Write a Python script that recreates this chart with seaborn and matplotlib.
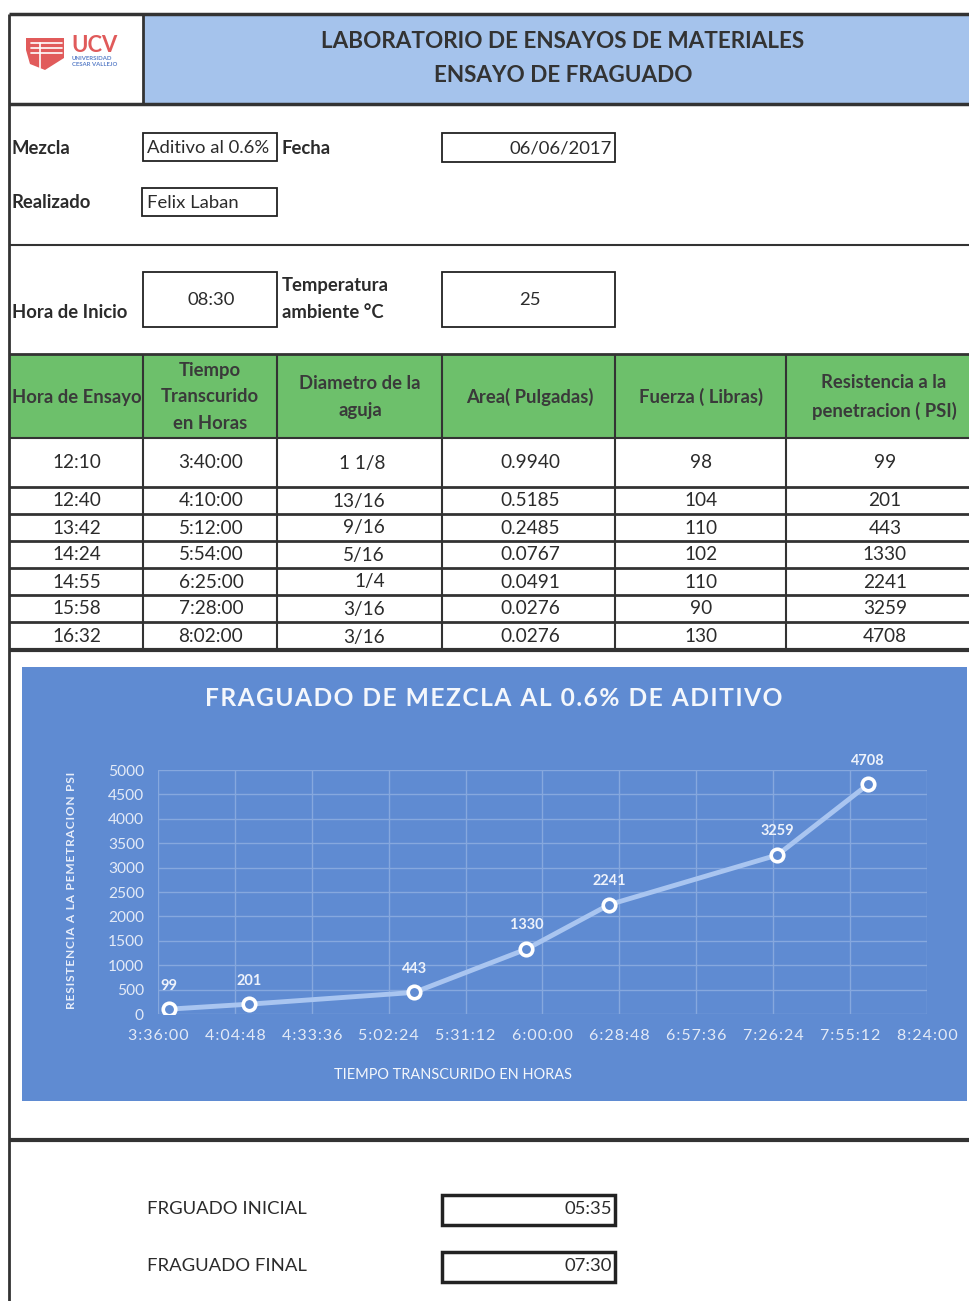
import numpy as np
import pandas as pd
import matplotlib
matplotlib.use("Agg")
import matplotlib.pyplot as plt
from matplotlib.patches import Rectangle, Polygon
import seaborn as sns

# ---- report data ----
mezcla = "Aditivo al 0.6%"
fecha = "06/06/2017"
realizado = "Felix Laban"
hora_inicio = "08:30"
temperatura = "25"

hora_ensayo = ["12:10", "12:40", "13:42", "14:24", "14:55", "15:58", "16:32"]
tiempo = ["3:40:00", "4:10:00", "5:12:00", "5:54:00", "6:25:00", "7:28:00", "8:02:00"]
diametro = ["1 1/8", "13/16", "9/16", "5/16", "1/4", "3/16", "3/16"]
area = ["0.9940", "0.5185", "0.2485", "0.0767", "0.0491", "0.0276", "0.0276"]
fuerza = [98, 104, 110, 102, 110, 90, 130]
resistencia = [99, 201, 443, 1330, 2241, 3259, 4708]

fraguado_inicial = "05:35"
fraguado_final = "07:30"

x_ticks_hours = [3.6 + 0.48 * i for i in range(11)]
y_ticks = list(range(0, 5001, 500))

sns.set_style("white")
plt.rcParams["font.family"] = ["Lato", "DejaVu Sans"]

W, H = 970, 1301
fig = plt.figure(figsize=(W / 100, H / 100), dpi=100)
doc = fig.add_axes([0, 0, 1, 1])
doc.set_xlim(0, W)
doc.set_ylim(H, 0)
doc.axis("off")

INK = "#2b2b2b"
HEAD_BLUE = "#a5c3ec"
GREEN = "#6dc06b"
CHART_BG = "#5f8bd2"
HAIR = "\u200a"


def pt(px):
    return px * 0.72


def spaced(s):
    return HAIR.join(s)


def hline(y, x0, x1, lw=2.0, c="#333333"):
    doc.plot([x0, x1], [y, y], color=c, lw=lw, solid_capstyle="butt")


def vline(x, y0, y1, lw=1.5, c="#333333"):
    doc.plot([x, x], [y0, y1], color=c, lw=lw, solid_capstyle="butt")


def box(x0, y0, x1, y1, lw=1.3):
    doc.add_patch(Rectangle((x0, y0), x1 - x0, y1 - y0, fill=False,
                            ec="#222222", lw=lw))


def txt(x, y, s, size=18.5, ha="left", weight="normal", color=INK, **kw):
    doc.text(x, y, s, fontsize=pt(size), ha=ha, va="center",
             fontweight=weight, color=color, **kw)


# ---- header ----
doc.add_patch(Rectangle((143, 14), W - 143, 90, color=HEAD_BLUE, lw=0))
hline(14, 9, W, lw=2.5)
hline(104, 9, W, lw=2.5)
vline(9, 14, H, lw=2.0)
vline(143, 14, 104, lw=2.0)
txt(563, 42, "LABORATORIO DE ENSAYOS DE MATERIALES", size=22.5, ha="center",
    weight="bold", color="#333333")
txt(563, 75, "ENSAYO DE FRAGUADO", size=22.5, ha="center",
    weight="bold", color="#333333")

# logo
doc.add_patch(Polygon([[26, 38], [64, 38], [64, 58], [45, 70], [30, 64], [26, 50]],
                      closed=True, color="#e15b5b", lw=0))
for yy in (43, 48, 53):
    doc.plot([31, 62], [yy, yy], color="white", lw=1.2)
doc.plot([40, 40], [43, 68], color="white", lw=1.2)
txt(71, 46, "UCV", size=22, weight="bold", color="#e05a5a")
txt(72, 58, "UNIVERSIDAD", size=6, weight="bold", color="#5a7fc8")
txt(72, 64, "CESAR VALLEJO", size=6, weight="bold", color="#5a7fc8")

# ---- general info ----
txt(12, 148, "Mezcla", weight="bold")
box(143, 133, 277, 161)
txt(147, 148, mezcla)
txt(282, 148, "Fecha", weight="bold")
box(442, 133, 615, 162)
txt(612, 148, fecha, ha="right")

txt(12, 203, "Realizado", weight="bold")
box(142, 188, 277, 216)
txt(147, 203, realizado)

hline(245, 9, W, lw=1.5)

txt(12, 313, "Hora de Inicio", weight="bold")
box(143, 272, 277, 327)
txt(211, 300, hora_inicio, ha="center")
txt(282, 286, "Temperatura", weight="bold")
txt(282, 313, "ambiente \u00b0C", weight="bold")
box(442, 272, 615, 327)
txt(530, 300, temperatura, ha="center")

# ---- table ----
col_edges = [9, 143, 277, 442, 615, 786, W]
doc.add_patch(Rectangle((9, 354), W - 9, 84, color=GREEN, lw=0))
hline(354, 9, W, lw=2.0)
hline(438, 9, W, lw=1.5)
headers = ["Hora de Ensayo", "Tiempo\nTranscurido\nen Horas", "Diametro de la\naguja",
           "Area( Pulgadas)", "Fuerza ( Libras)", "Resistencia a la\npenetracion ( PSI)"]
head_x = [77, 210, 360, 530, 701, 884]
for hx, hs in zip(head_x, headers):
    doc.text(hx, 397, hs, fontsize=pt(18.5), ha="center", va="center",
             fontweight="bold", color="#3a3a3a", linespacing=1.7)

row_bounds = [438, 487, 514, 541, 568, 595, 622, 650]
for yb in row_bounds[1:-1]:
    hline(yb, 9, W, lw=2.0)
hline(650, 9, W, lw=3.0)
for xe in col_edges[1:-1]:
    vline(xe, 354, 650, lw=1.5)

row_y = [463, 501, 528, 555, 582, 609, 637]
for i, ry in enumerate(row_y):
    txt(77, ry, hora_ensayo[i], ha="center", size=19)
    txt(211, ry, tiempo[i], ha="center", size=19)
    txt(385, ry, diametro[i], ha="right", size=19)
    txt(530, ry, area[i], ha="center", size=19)
    txt(701, ry, str(fuerza[i]), ha="center", size=19)
    txt(885, ry, str(resistencia[i]), ha="center", size=19)

# ---- chart panel ----
doc.add_patch(Rectangle((22, 667), 945, 434, color=CHART_BG, lw=0))
doc.text(494, 699, spaced("FRAGUADO DE MEZCLA AL 0.6% DE ADITIVO"), fontsize=pt(24.5),
         ha="center", va="center", fontweight="bold", color="#f4f7fc")
doc.text(453, 1075, "TIEMPO TRANSCURIDO EN HORAS", fontsize=pt(14.5),
         ha="center", va="center", color="#f4f7fc")
doc.text(72, 890, spaced("RESISTENCIA A LA PEMETRACION PSI"), fontsize=pt(12),
         ha="center", va="center", rotation=90, fontweight="bold", color="#e8eefa")

ax_l, ax_r, ax_t, ax_b = 158, 927, 770, 1014
ax = fig.add_axes([ax_l / W, (H - ax_b) / H, (ax_r - ax_l) / W, (ax_b - ax_t) / H])
ax.set_facecolor("none")


def to_hours(s):
    h, m, sec = (int(v) for v in s.split(":"))
    return h + m / 60 + sec / 3600


df = pd.DataFrame({"horas": [to_hours(t) for t in tiempo], "psi": resistencia})
sns.lineplot(data=df, x="horas", y="psi", ax=ax, color="#a9c5f0", linewidth=3.5,
             marker="o", markersize=9, markeredgecolor="white",
             markerfacecolor=CHART_BG, markeredgewidth=2.6, zorder=3)
for hx, v in zip(df["horas"], df["psi"]):
    ax.annotate(str(v), (hx, v), xytext=(0, 17), textcoords="offset points",
                ha="center", va="center", fontsize=pt(14.5), fontweight="bold",
                color="#edf2fb")


def fmt_hms(h):
    total = int(round(h * 3600))
    return f"{total // 3600}:{(total % 3600) // 60:02d}:{total % 60:02d}"


ax.set_xlim(x_ticks_hours[0], x_ticks_hours[-1])
ax.set_ylim(0, 5000)
ax.set_xticks(x_ticks_hours)
ax.set_xticklabels([spaced(fmt_hms(h)) for h in x_ticks_hours])
ax.set_yticks(y_ticks)
ax.set_yticklabels([str(v) for v in y_ticks])
ax.grid(True, color="#86a8de", lw=1.0)
ax.set_axisbelow(True)
for s in ax.spines.values():
    s.set_visible(False)
ax.tick_params(axis="both", length=0, colors="#e3eaf7", labelsize=pt(15.5))
ax.tick_params(axis="x", labelsize=pt(16), pad=pt(15))
ax.tick_params(axis="y", pad=pt(14))
ax.set_xlabel("")
ax.set_ylabel("")

# ---- setting times ----
hline(1140, 9, W, lw=3.0)
txt(147, 1209, "FRGUADO INICIAL")
doc.add_patch(Rectangle((442, 1195), 173, 30, fill=False, ec="#222222", lw=2.5))
txt(612, 1209, fraguado_inicial, ha="right")
txt(147, 1266, "FRAGUADO FINAL")
doc.add_patch(Rectangle((442, 1252), 173, 30, fill=False, ec="#222222", lw=2.5))
txt(612, 1266, fraguado_final, ha="right")

fig.savefig("out.png", dpi=100, facecolor="white")
